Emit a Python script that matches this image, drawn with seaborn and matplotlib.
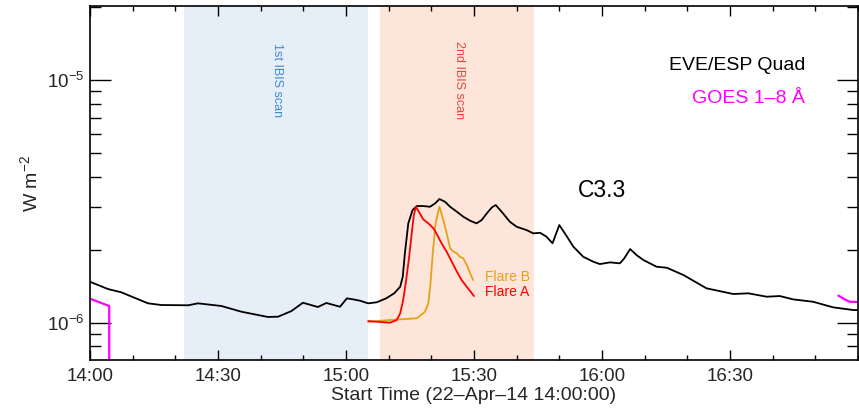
import numpy as np
import pandas as pd
import matplotlib
matplotlib.use("Agg")
import matplotlib.pyplot as plt
import matplotlib.ticker as mticker
import seaborn as sns

# ---- data (time in minutes after 14:00 UT, flux in units of 1e-6 W m^-2) ----
eve_time = [0, 4.2, 7.3, 13.6, 16.7, 23.0, 25.3, 30.8, 35.5, 41.7, 44.1, 47.2, 49.9,
            53.4, 55.4, 58.6, 60.2, 61.7, 63.3, 65.2, 67.2, 69.4, 71.3, 72.7, 73.3,
            73.8, 74.6, 75.6, 76.6, 78.1, 79.7, 80.9, 81.9, 83.2, 84.4, 86.0, 87.5,
            89.1, 90.6, 91.8, 93.0, 94.2, 95.1, 96.8, 98.4, 100.0, 102.3, 103.9,
            105.5, 107.0, 108.4, 110.0, 111.3, 113.3, 115.6, 118.0, 119.5, 121.9,
            124.2, 125.2, 126.6, 128.1, 129.7, 132.8, 135.2, 139.1, 144.5, 150.8,
            154.3, 158.6, 161.7, 164.8, 169.5, 174.2, 178.9, 180.0]
eve_flux = [1.475, 1.377, 1.335, 1.202, 1.183, 1.180, 1.202, 1.172, 1.110, 1.056,
            1.059, 1.117, 1.209, 1.161, 1.206, 1.164, 1.260, 1.248, 1.232, 1.202,
            1.214, 1.260, 1.322, 1.407, 1.547, 1.931, 2.568, 2.913, 3.026, 3.026,
            3.006, 3.105, 3.234, 3.152, 3.006, 2.866, 2.734, 2.632, 2.568, 2.650,
            2.823, 2.989, 3.055, 2.823, 2.608, 2.486, 2.410, 2.335, 2.348, 2.262,
            2.125, 2.527, 2.335, 2.057, 1.870, 1.783, 1.745, 1.773, 1.757, 1.840,
            2.012, 1.901, 1.813, 1.701, 1.685, 1.572, 1.386, 1.313, 1.322, 1.280,
            1.288, 1.248, 1.220, 1.157, 1.128, 1.128]

flareA_time = [65.2, 70.3, 71.9, 72.7, 73.4, 74.1, 74.8, 75.4, 75.9, 76.4, 77.3,
               78.1, 79.3, 80.5, 81.4, 82.4, 83.6, 84.8, 86.0, 87.1, 88.3, 90.0]
flareA_flux = [1.016, 1.000, 1.026, 1.093, 1.240, 1.499, 1.870, 2.335, 2.779,
               3.006, 2.823, 2.667, 2.568, 2.449, 2.298, 2.125, 1.961, 1.783,
               1.622, 1.499, 1.407, 1.288]

flareB_time = [65.2, 70.3, 76.6, 78.5, 79.3, 79.8, 80.4, 81.0, 81.9, 82.8, 83.6,
               84.4, 85.2, 86.0, 86.7, 87.5, 87.9, 88.3, 89.1, 89.8]
flareB_flux = [1.009, 1.026, 1.043, 1.110, 1.202, 1.453, 1.993, 2.568, 3.006,
               2.650, 2.335, 2.026, 1.961, 1.931, 1.870, 1.842, 1.783, 1.729,
               1.598, 1.499]

goes_left_time = [0.0, 4.5, 4.5]
goes_left_flux = [1.256, 1.172, 0.1]
goes_right_time = [175.4, 176.9, 178.1, 180.0]
goes_right_flux = [1.294, 1.248, 1.220, 1.217]

scan1 = (22.0, 65.2)
scan2 = (68.0, 104.1)

xtick_pos = [0, 30, 60, 90, 120, 150]
xtick_labels = ["14:00", "14:30", "15:00", "15:30", "16:00", "16:30"]

UNIT = 1e-6

# ---- style ----
sns.set_style("ticks")
plt.rcParams["font.family"] = ["Liberation Sans", "DejaVu Sans"]
plt.rcParams["mathtext.fontset"] = "custom"
plt.rcParams["mathtext.rm"] = "Liberation Sans"
plt.rcParams["mathtext.it"] = "Liberation Sans:italic"

fig = plt.figure(figsize=(8.59, 4.12), dpi=100)
ax = fig.add_axes([0.1048, 0.1262, 0.8940, 0.8592])

ax.axvspan(*scan1, color="#e6eef8", lw=0, zorder=0)
ax.axvspan(*scan2, color="#fde5da", lw=0, zorder=0)

def frame(t, f):
    return pd.DataFrame({"t": t, "f": np.asarray(f) * UNIT})

series = [
    (frame(eve_time, eve_flux), "black", 1.3),
    (frame(flareB_time, flareB_flux), "#e3a21a", 1.3),
    (frame(flareA_time, flareA_flux), "#ff0000", 1.3),
    (frame(goes_left_time, goes_left_flux), "#ff00ff", 1.6),
    (frame(goes_right_time, goes_right_flux), "#ff00ff", 1.6),
]
for df, col, lw in series:
    sns.lineplot(data=df, x="t", y="f", ax=ax, color=col, lw=lw,
                 estimator=None, sort=False)

ax.set_yscale("log")
ax.set_xlim(0, 180)
ax.set_ylim(7.02e-7, 2.02e-5)

ax.set_xticks(xtick_pos)
ax.set_xticklabels(xtick_labels)
ax.xaxis.set_minor_locator(mticker.MultipleLocator(10))
ax.yaxis.set_major_locator(mticker.LogLocator(base=10, numticks=10))
ax.yaxis.set_minor_locator(mticker.LogLocator(base=10, subs=np.arange(2, 10), numticks=10))
ax.yaxis.set_minor_formatter(mticker.NullFormatter())

ax.tick_params(axis="both", which="both", direction="in", top=True, right=True,
               labelsize=13.5, width=1.0, color="black")
ax.tick_params(axis="x", which="major", length=7, pad=6)
ax.tick_params(axis="x", which="minor", length=3.5)
ax.tick_params(axis="y", which="major", length=15, pad=4)
ax.tick_params(axis="y", which="minor", length=8)
for s in ax.spines.values():
    s.set_linewidth(1.2)
    s.set_color("black")

ax.set_xlabel("Start Time (22\u2013Apr\u201314 14:00:00)", fontsize=14, labelpad=1)
ax.set_ylabel("W m$^{-2}$", fontsize=14)
ax.yaxis.set_label_coords(-0.064, 0.5)

ax.text(0.931, 0.833, "EVE/ESP Quad", transform=ax.transAxes, ha="right",
        va="center", fontsize=14, color="black")
ax.text(0.931, 0.740, "GOES 1\u20138 \u00c5", transform=ax.transAxes, ha="right",
        va="center", fontsize=14, color="#ff00ff")
ax.text(120, 3.52e-6, "C3.3", ha="center", va="center", fontsize=16.5, color="black")
ax.text(92.6, 1.543e-6, "Flare B", ha="left", va="center", fontsize=10, color="#e3a21a")
ax.text(92.6, 1.338e-6, "Flare A", ha="left", va="center", fontsize=10, color="#ff0000")
ax.text(43.8, 0.79, "1st IBIS scan", transform=ax.get_xaxis_transform(), ha="center",
        va="center", rotation=270, fontsize=9, color="#3f8bd0")
ax.text(86.6, 0.79, "2nd IBIS scan", transform=ax.get_xaxis_transform(), ha="center",
        va="center", rotation=270, fontsize=9, color="#e8453c")

fig.savefig("out.png", dpi=100)
